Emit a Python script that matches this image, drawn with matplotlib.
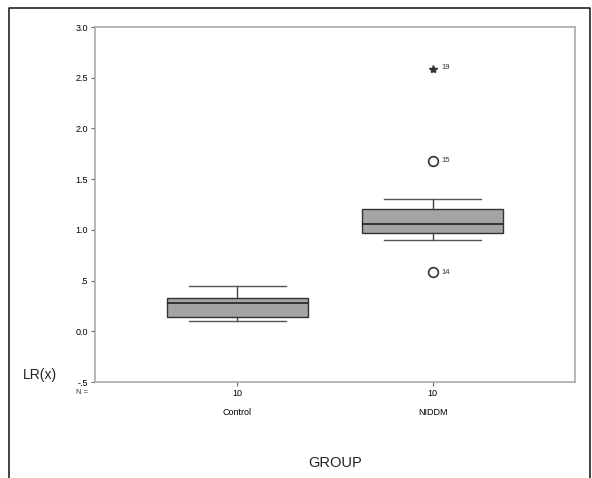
import matplotlib.pyplot as plt
from matplotlib.lines import Line2D

plt.rcParams['font.family'] = ['Liberation Sans', 'DejaVu Sans']

# group summary values
groups = ['Control', 'NIDDM']
counts = ['10', '10']
q1 = [0.14, 0.97]
med = [0.275, 1.06]
q3 = [0.325, 1.21]
whis_lo = [0.10, 0.90]
whis_hi = [0.45, 1.30]

# NIDDM outliers (circle) and extreme (star), with case labels
out_vals = [1.68, 0.58]
out_ids = ['15', '14']
ext_vals = [2.59]
ext_ids = ['19']

fig = plt.figure(figsize=(5.92, 4.78), dpi=100)
# outer frame, open at the bottom
xl, xr, yt = 9/592, 590/592, 1 - 8/478
fig.lines.append(Line2D([xl, xl, xr, xr], [0, yt, yt, 0], transform=fig.transFigure,
                        color='#222222', linewidth=1.2))

ax = fig.add_axes([95/592, 96/478, 480/592, 355/478])

stats = []
for i in range(len(groups)):
    stats.append(dict(med=med[i], q1=q1[i], q3=q3[i], whislo=whis_lo[i],
                      whishi=whis_hi[i], fliers=[]))
pos = [1, 2]
ax.bxp(stats, positions=pos, widths=0.72, patch_artist=True, showfliers=False,
       boxprops=dict(facecolor='#a4a4a4', edgecolor='#333333', linewidth=1.0),
       medianprops=dict(color='#222222', linewidth=1.2),
       whiskerprops=dict(color='#444444', linewidth=1.0),
       capprops=dict(color='#555555', linewidth=1.0), capwidths=0.5)

ax.plot([2] * len(out_vals), out_vals, 'o', mfc='white', mec='#333333', ms=7, mew=1.2)
ax.plot([2] * len(ext_vals), ext_vals, '*', color='#333333', ms=6)
for v, t in zip(out_vals, out_ids):
    ax.text(2.045, v, t, fontsize=5.5, va='center', color='#333333')
for v, t in zip(ext_vals, ext_ids):
    ax.text(2.045, v + 0.01, t, fontsize=5.5, va='center', color='#333333')

ax.set_xlim(0.27, 2.73)
ax.set_ylim(-0.5, 3.0)
ax.set_yticks([3.0, 2.5, 2.0, 1.5, 1.0, 0.5, 0.0, -0.5])
ax.set_yticklabels(['3.0', '2.5', '2.0', '1.5', '1.0', '.5', '0.0', '-.5'], fontsize=6.5)
ax.set_xticks(pos)
ax.set_xticklabels([c + '\n\n' + g for c, g in zip(counts, groups)], fontsize=6.5,
                   linespacing=1.1)
ax.tick_params(length=3, width=0.8, color='#666666', pad=2)
for s in ax.spines.values():
    s.set_color('#aaaaaa')
    s.set_linewidth(1.2)

fig.text(88/592, 1 - 393/478, 'N =', fontsize=5.5, ha='right', va='center', color='#333333')
fig.text(40/592, 1 - 375/478, 'LR(x)', fontsize=10, ha='center', va='center', color='#222222')
fig.text(335/592, 1 - 463/478, 'GROUP', fontsize=10.5, ha='center', va='center', color='#222222')

fig.savefig('out.png', dpi=100)
